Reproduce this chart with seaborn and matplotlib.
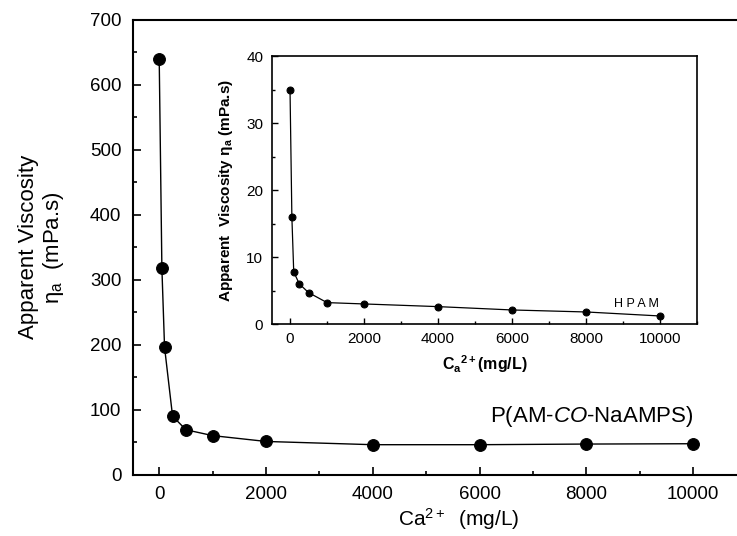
import matplotlib
matplotlib.use("Agg")
import matplotlib.pyplot as plt
from matplotlib.ticker import MultipleLocator
import seaborn as sns
import pandas as pd

# ---- data ----
ca_main = [0, 50, 100, 250, 500, 1000, 2000, 4000, 6000, 8000, 10000]
visc_main = [640, 318, 196, 90, 69, 60, 51, 46, 46, 47, 47.5]

ca_inset = [0, 50, 100, 250, 500, 1000, 2000, 4000, 6000, 8000, 10000]
visc_inset = [35, 16.0, 7.8, 6.0, 4.7, 3.2, 3.0, 2.6, 2.1, 1.8, 1.2]

main_label = "P(AM-$\\mathit{CO}$-NaAMPS)"
inset_label = "H P A M"

sns.set_style("ticks")
plt.rcParams['font.family'] = ['Liberation Sans', 'DejaVu Sans']
plt.rcParams['mathtext.fontset'] = 'custom'
plt.rcParams['mathtext.rm'] = 'Liberation Sans'
plt.rcParams['mathtext.it'] = 'Liberation Sans:italic'
plt.rcParams['mathtext.bf'] = 'Liberation Sans:bold'
plt.rcParams['text.color'] = 'black'
plt.rcParams['axes.labelcolor'] = 'black'
plt.rcParams['xtick.color'] = 'black'
plt.rcParams['ytick.color'] = 'black'

fig = plt.figure(figsize=(7.37, 5.36), dpi=100)

# ---- main axes ----
ax = fig.add_axes([0.1798, 0.1146, 0.8202, 0.8481])
df_main = pd.DataFrame({"ca": ca_main, "visc": visc_main})
sns.lineplot(data=df_main, x="ca", y="visc", ax=ax, color="black", lw=1.0,
             marker="o", ms=8.5, mec="black", mfc="black", sort=False)
ax.set_xlim(-500, 10820)
ax.set_ylim(0, 700)
ax.xaxis.set_major_locator(MultipleLocator(2000))
ax.xaxis.set_minor_locator(MultipleLocator(1000))
ax.yaxis.set_major_locator(MultipleLocator(100))
ax.yaxis.set_minor_locator(MultipleLocator(50))
ax.tick_params(which="both", direction="in", top=False, right=False, width=1.2,
               colors="black", labelcolor="black")
ax.tick_params(which="major", length=6, labelsize=13.5, pad=8)
ax.tick_params(which="minor", length=3)
for s in ["left", "bottom", "top"]:
    ax.spines[s].set_linewidth(1.5)
    ax.spines[s].set_color("black")
ax.spines["right"].set_visible(False)
ax.set_xlabel("Ca$^{\\mathregular{2+}}$  (mg/L)", fontsize=15, color="black")
ax.xaxis.set_label_coords(0.54, -0.07)
ax.set_ylabel("Apparent Viscosity\nη$_{\\mathregular{a}}$  (mPa.s)", fontsize=16, labelpad=17,
              linespacing=1.1, color="black")
ax.text(10000, 89, main_label, ha="right", va="center", fontsize=16, color="black")

# ---- inset axes ----
ins = fig.add_axes([0.3684, 0.3955, 0.5777, 0.4991])
df_ins = pd.DataFrame({"ca": ca_inset, "visc": visc_inset})
sns.lineplot(data=df_ins, x="ca", y="visc", ax=ins, color="black", lw=0.9,
             marker="o", ms=5, mec="black", mfc="black", sort=False)
ins.set_xlim(-500, 11000)
ins.set_ylim(0, 40)
ins.xaxis.set_major_locator(MultipleLocator(2000))
ins.xaxis.set_minor_locator(MultipleLocator(1000))
ins.yaxis.set_major_locator(MultipleLocator(10))
ins.yaxis.set_minor_locator(MultipleLocator(5))
ins.tick_params(which="both", direction="in", top=False, right=False, width=1.0,
                colors="black", labelcolor="black")
ins.tick_params(which="major", length=4, labelsize=11, pad=6)
ins.tick_params(which="minor", length=2.5)
for s in ins.spines.values():
    s.set_linewidth(1.2)
    s.set_color("black")
ins.set_xlabel("C$_{\\mathregular{a}}$$^{\\mathregular{2+}}$(mg/L)", fontsize=11.5,
               fontweight="bold", labelpad=5, color="black")
ins.set_ylabel("Apparent  Viscosity η$_{\\mathregular{a}}$ (mPa.s)", fontsize=11,
               fontweight="bold", labelpad=8, color="black")
ins.text(9350, 3.0, inset_label, ha="center", va="center", fontsize=9, color="black")

fig.savefig("out.png", dpi=100)
